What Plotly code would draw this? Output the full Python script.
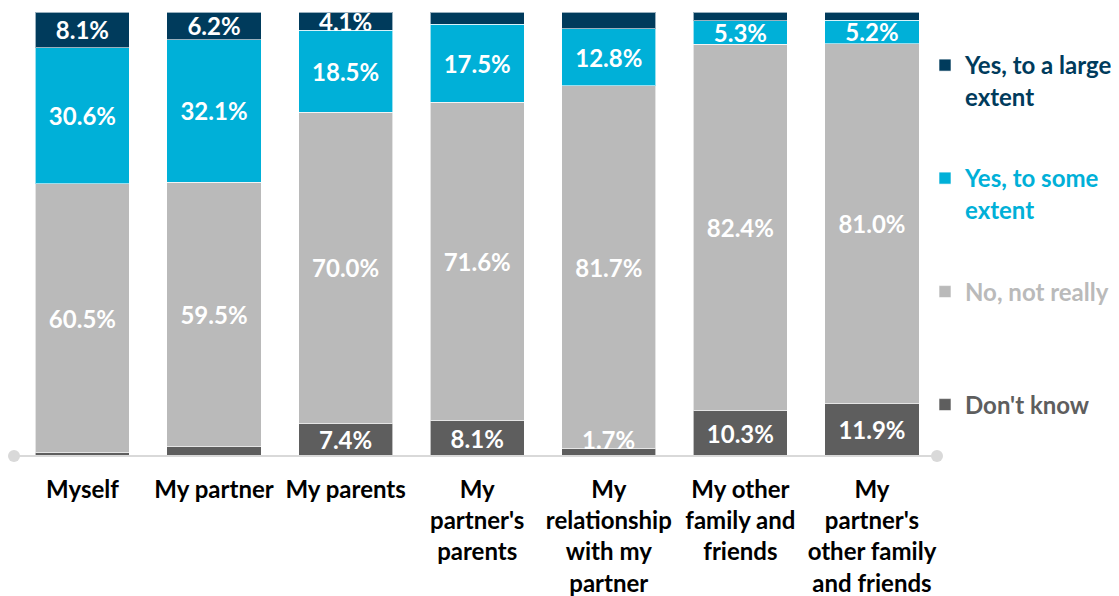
import plotly.graph_objects as go

categories = ["Myself", "My partner", "My parents", "My<br>partner's<br>parents",
              "My<br>relationship<br>with my<br>partner", "My other<br>family and<br>friends",
              "My<br>partner's<br>other family<br>and friends"]

dont_know = [0.8, 2.2, 7.4, 8.1, 1.7, 10.3, 11.9]
no_not_really = [60.5, 59.5, 70.0, 71.6, 81.7, 82.4, 81.0]
yes_some = [30.6, 32.1, 18.5, 17.5, 12.8, 5.3, 5.2]
yes_large = [8.1, 6.2, 4.1, 2.8, 3.8, 2.0, 1.9]

# which segments carry a data label inside the bar
show_dk = [False, False, True, True, False, True, True]
show_no = [True] * 7
show_some = [True] * 7
show_large = [True, True, True, False, False, False, False]
# the 1.7% label sits just above its thin segment
lifted_dk = [4]

series = [
    ("Don't know", dont_know, show_dk, "#5E5E5E", 397, "Don't know"),
    ("No, not really", no_not_really, show_no, "#BABABA", 284, "No, not really"),
    ("Yes, to some extent", yes_some, show_some, "#00B0D8", 186, "Yes, to some<br>extent"),
    ("Yes, to a large extent", yes_large, show_large, "#003B5C", 73, "Yes, to a large<br>extent"),
]

FONT = "Lato"
FS = 24
# page body adds an 8px offset; the right/bottom overflow is simply cut off
W, H = 1119, 588
AXIS_LEN = 923  # baseline runs a little past the plot area, under the legend's push

fig = go.Figure()
layout_legends = {}
for i, (name, vals, show, color, ly, lname) in enumerate(series):
    leg = "legend" if i == 0 else f"legend{i + 1}"
    fig.add_trace(go.Bar(
        x=categories, y=vals, name=lname,
        marker=dict(color=color, line=dict(color="rgba(255,255,255,0.6)", width=1)),
        text=[f"{v:.1f}%" if s else "" for v, s in zip(vals, show)],
        textposition="inside", insidetextanchor="middle", textangle=0,
        textfont=dict(family=FONT, size=FS, color="white", weight="bold"),
        hoverinfo="skip", legend=leg, showlegend=True,
    ))
    layout_legends[leg] = dict(
        x=917 / W, y=1 - ly / H, xref="container", yref="container",
        xanchor="left", yanchor="middle", valign="top",
        font=dict(family=FONT, size=FS, color=color, weight="bold"),
        bgcolor="rgba(0,0,0,0)", itemwidth=30,
    )

annotations = [
    dict(x=categories[k], y=dont_know[k], xref="x", yref="y", text=f"{dont_know[k]:.1f}%",
         showarrow=False, yanchor="middle", yshift=9,
         font=dict(family=FONT, size=FS, color="white", weight="bold"))
    for k in lifted_dk
]

shapes = [dict(type="line", xref="paper", yref="paper", xsizemode="pixel", xanchor=0,
               x0=0, x1=AXIS_LEN, y0=0, y1=0, line=dict(color="#D9D9D9", width=2))]
for cx in (0, AXIS_LEN):
    shapes.append(dict(type="circle", xref="paper", yref="paper", xsizemode="pixel",
                       ysizemode="pixel", xanchor=0, yanchor=0, x0=cx - 6, x1=cx + 6,
                       y0=-6, y1=6, fillcolor="#D9D9D9", line=dict(width=0)))

fig.update_layout(
    barmode="stack", bargap=0.285,
    width=W, height=H, showlegend=True,
    margin=dict(l=6, r=190, t=4, b=140),
    plot_bgcolor="white", paper_bgcolor="white",
    uniformtext=dict(minsize=FS, mode="show"),
    xaxis=dict(range=[-0.52, 6.403], showline=False,
               showgrid=False, ticks="", tickangle=0, ticklabelstandoff=17, automargin=False,
               tickfont=dict(family=FONT, size=FS, color="black", weight="bold")),
    yaxis=dict(range=[0, 100], visible=False),
    shapes=shapes,
    annotations=annotations,
    **layout_legends,
)

fig.write_html("out.html")
